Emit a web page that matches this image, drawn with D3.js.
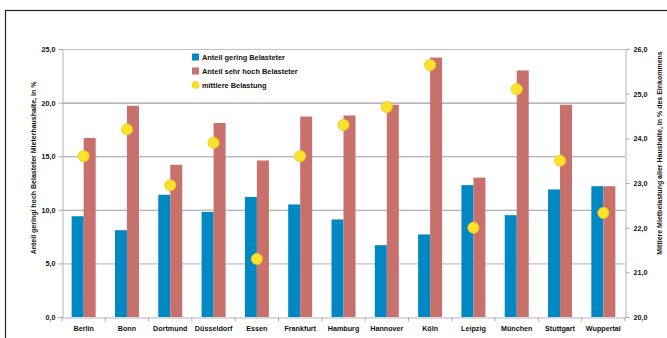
<!DOCTYPE html>
<html>
<head>
<meta charset="utf-8">
<script src="https://cdn.jsdelivr.net/npm/d3@7"></script>
<style>
  html, body { margin: 0; padding: 0; background: #fff; }
  svg { display: block; }
  text { font-family: "Liberation Sans", Arial, sans-serif; font-weight: bold; fill: #111; }
</style>
</head>
<body>
<svg id="chart" width="667" height="338"></svg>
<script>
// Cities on the x axis
const cities = ["Berlin", "Bonn", "Dortmund", "Düsseldorf", "Essen", "Frankfurt", "Hamburg",
                "Hannover", "Köln", "Leipzig", "München", "Stuttgart", "Wuppertal"];
// Share of households with low rent burden, in %
const geringBelastet = [9.4, 8.1, 11.4, 9.8, 11.2, 10.5, 9.1, 6.7, 7.7, 12.3, 9.5, 11.9, 12.2];
// Share of households with very high rent burden, in %
const sehrHochBelastet = [16.7, 19.7, 14.2, 18.1, 14.6, 18.7, 18.8, 19.8, 24.2, 13.0, 23.0, 19.8, 12.2];
// Average rent burden of all households, in % of income (right axis)
const mittlereBelastung = [23.6, 24.2, 22.95, 23.9, 21.3, 23.6, 24.3, 24.7, 25.64, 22.0, 25.1, 23.5, 22.33];

const leftTicks = [0, 5, 10, 15, 20, 25];
const rightTicks = [20, 21, 22, 23, 24, 25, 26];
const legendLabels = ["Anteil gering Belasteter", "Anteil sehr hoch Belasteter", "mittlere Belastung"];

const colBlue = "#0088c3", colRed = "#c8706b", colYellow = "#fde12b";
const fmt = d => d.toFixed(1).replace(".", ",");

const svg = d3.select("#chart");
const m = { left: 62, right: 625, top: 49, bottom: 317 };

// outer frame
svg.append("rect").attr("x", 5.5).attr("y", 10.5).attr("width", 700).attr("height", 400)
  .attr("fill", "none").attr("stroke", "#222").attr("stroke-width", 1.2);

const x = d3.scaleBand().domain(cities).range([m.left, m.right]).paddingInner(0).paddingOuter(0);
const yL = d3.scaleLinear().domain([0, 25]).range([m.bottom, m.top]);
const yR = d3.scaleLinear().domain([20, 26]).range([m.bottom, m.top]);

// horizontal gridlines
svg.append("g").selectAll("line").data(leftTicks.filter(d => d > 0)).join("line")
  .attr("x1", m.left).attr("x2", m.right)
  .attr("y1", d => yL(d) + 0.5).attr("y2", d => yL(d) + 0.5)
  .attr("stroke", d => (d === 5 || d === 25) ? "#c2c2c6" : "#9c9ca6").attr("stroke-width", 1.1);

// bars
const barW = 12;
const groups = svg.append("g").selectAll("g").data(cities).join("g")
  .attr("transform", d => `translate(${x(d) + x.bandwidth() / 2},0)`);
groups.append("rect")
  .attr("x", -barW).attr("width", barW)
  .attr("y", (d, i) => yL(geringBelastet[i])).attr("height", (d, i) => yL(0) - yL(geringBelastet[i]))
  .attr("fill", colBlue);
groups.append("rect")
  .attr("x", 0).attr("width", barW)
  .attr("y", (d, i) => yL(sehrHochBelastet[i])).attr("height", (d, i) => yL(0) - yL(sehrHochBelastet[i]))
  .attr("fill", colRed);

// average burden markers
svg.append("g").selectAll("circle").data(cities).join("circle")
  .attr("cx", d => x(d) + x.bandwidth() / 2)
  .attr("cy", (d, i) => yR(mittlereBelastung[i]))
  .attr("r", 5.6)
  .attr("fill", colYellow).attr("stroke", "#f2c61a").attr("stroke-width", 0.8);

// left axis
const axL = svg.append("g").attr("transform", `translate(${m.left + 0.5},0)`)
  .call(d3.axisLeft(yL).tickValues(leftTicks).tickFormat(fmt).tickSize(4).tickPadding(3));
// right axis
const axR = svg.append("g").attr("transform", `translate(${m.right + 0.5},0)`)
  .call(d3.axisRight(yR).tickValues(rightTicks).tickFormat(fmt).tickSize(4).tickPadding(4));
// bottom axis with ticks between categories
const axB = svg.append("g").attr("transform", `translate(0,${m.bottom + 0.5})`)
  .call(d3.axisBottom(x).tickSize(0).tickPadding(8));
axB.selectAll(".tick").append("line")
  .attr("x1", x.bandwidth() / 2).attr("x2", x.bandwidth() / 2)
  .attr("y1", 0).attr("y2", 4).attr("stroke", "#a8a8b0");
axB.append("line").attr("x1", m.left).attr("x2", m.left).attr("y1", 0).attr("y2", 4).attr("stroke", "#a8a8b0");

[axL, axR, axB].forEach(a => {
  a.select(".domain").attr("stroke", "#b4b4bc");
  a.selectAll(".tick line").attr("stroke", "#a8a8b0");
  a.selectAll("text").style("font-size", "7.2px").style("font-family", "'Liberation Sans', Arial, sans-serif")
    .style("font-weight", "bold").attr("fill", "#111");
});
axL.selectAll(".tick text").attr("dy", "0.35em");
axR.selectAll(".tick text").attr("dy", "0.35em");

// axis titles
svg.append("text").attr("transform", "translate(36,168) rotate(-90)")
  .attr("text-anchor", "middle").style("font-size", "7px")
  .text("Anteil gering/ hoch Belasteter Mieterhaushalte, in %");
svg.append("text").attr("transform", "translate(662,153) rotate(-90)")
  .attr("text-anchor", "middle").style("font-size", "7px")
  .text("Mittlere Mietbelastung aller Haushalte, in % des Einkommens");

// legend
const lg = svg.append("g").attr("transform", "translate(192,57)");
const rowH = 14;
lg.append("rect").attr("x", 0).attr("y", -3.5).attr("width", 7).attr("height", 7).attr("fill", colBlue);
lg.append("rect").attr("x", 0).attr("y", rowH - 3.5).attr("width", 7).attr("height", 7).attr("fill", colRed);
lg.append("circle").attr("cx", 3.5).attr("cy", 2 * rowH).attr("r", 3.6).attr("fill", colYellow).attr("stroke", "#f2c61a").attr("stroke-width", 0.6);
lg.selectAll("text.lab").data(legendLabels).join("text").attr("class", "lab")
  .attr("x", 10).attr("y", (d, i) => i * rowH).attr("dy", "0.35em")
  .style("font-size", "7.4px").text(d => d);
</script>
</body>
</html>
